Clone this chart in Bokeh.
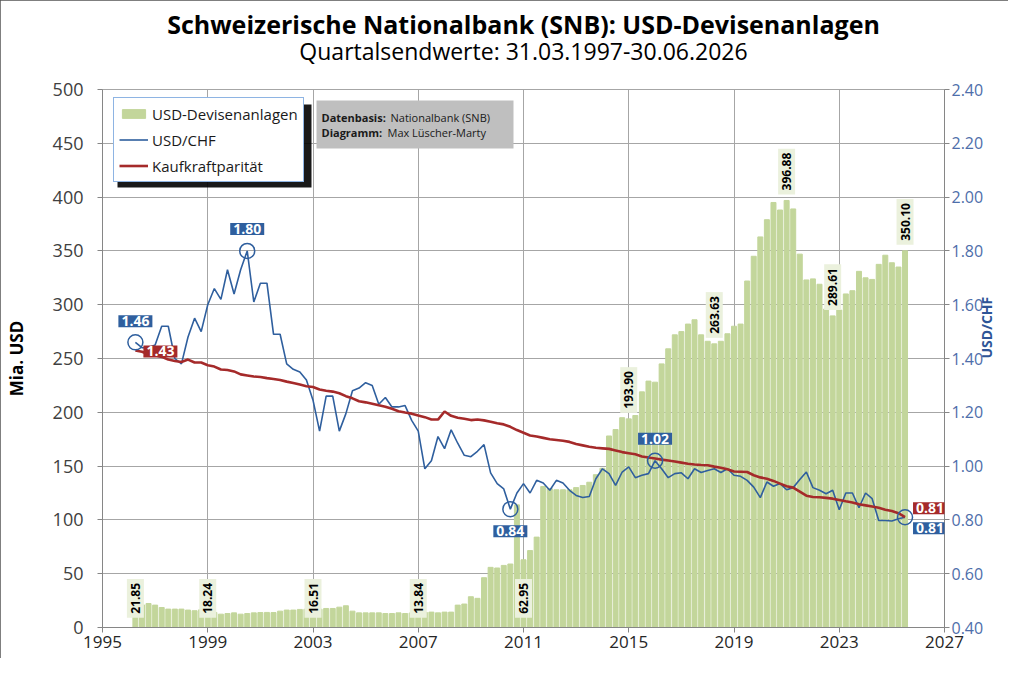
import math

from bokeh.plotting import figure
from bokeh.models import (ColumnDataSource, Range1d, LinearAxis, FixedTicker, Legend,
                          LegendItem, Label, BoxAnnotation, Title, NumeralTickFormatter)
from bokeh.embed import file_html
from bokeh.resources import INLINE

FONT = "Open Sans"

# Quartalsendwerte (Achse im Original um ein Jahr versetzt: erstes Quartal bei 1996.25)
first_quarter = 1996.25

usd_bn = [21.85, 21.0, 22.3, 20.8, 18.6, 17.1, 17.1, 17.1, 16.2, 15.6,
          16.5, 18.24, 14.0, 12.4, 13.0, 13.6, 12.4, 13.0, 13.6, 13.9,
          14.0, 13.9, 15.2, 16.2, 16.2, 16.8, 17.0, 16.51, 17.0, 17.7,
          17.7, 18.9, 20.2, 15.2, 13.6, 13.6, 13.6, 13.6, 13.0, 13.0,
          13.6, 13.0, 13.5, 13.84, 14.0, 14.3, 13.6, 14.3, 14.3, 20.8,
          21.8, 28.6, 27.1, 46.3, 55.9, 55.3, 57.7, 59.0, 114.0, 62.95,
          71.5, 84.0, 131, 129, 128, 128, 128, 130, 132, 135,
          142, 148, 178, 184, 195, 193.90, 197, 219, 229, 228,
          245, 259, 272, 275, 282, 286, 272, 266, 263.63, 266,
          273, 280, 282, 322, 345, 363, 379, 395, 388, 396.88,
          389, 347, 323, 324, 319, 296, 289.61, 295, 310, 313,
          331, 325, 323.5, 337.5, 346, 339, 335, 350.10]

usd_chf = [1.46, 1.44, 1.44, 1.45, 1.52, 1.52, 1.40, 1.38, 1.48, 1.55,
           1.50, 1.60, 1.66, 1.62, 1.73, 1.64, 1.73, 1.80, 1.61, 1.68,
           1.68, 1.49, 1.49, 1.38, 1.36, 1.35, 1.32, 1.245, 1.13, 1.26,
           1.26, 1.13, 1.195, 1.28, 1.29, 1.31, 1.30, 1.23, 1.255, 1.22,
           1.22, 1.225, 1.17, 1.13, 0.99, 1.02, 1.11, 1.065, 1.135, 1.085,
           1.04, 1.035, 1.055, 1.08, 0.975, 0.935, 0.915, 0.84, 0.90, 0.935,
           0.90, 0.947, 0.937, 0.910, 0.947, 0.937, 0.910, 0.891, 0.883, 0.887,
           0.953, 0.990, 0.972, 0.928, 0.978, 0.997, 0.957, 0.966, 0.972, 1.02,
           0.99, 0.957, 0.972, 0.975, 0.953, 0.99, 0.976, 0.984, 0.99, 0.976,
           0.99, 0.966, 0.962, 0.947, 0.922, 0.883, 0.941, 0.925, 0.935, 0.912,
           0.92, 0.95, 0.978, 0.92, 0.91, 0.897, 0.91, 0.838, 0.90, 0.90,
           0.845, 0.90, 0.879, 0.798, 0.798, 0.796, 0.804, 0.81]

ppp = [1.43, 1.425, 1.416, 1.412, 1.406, 1.396, 1.391, 1.387, 1.396, 1.385,
       1.385, 1.375, 1.37, 1.359, 1.357, 1.352, 1.341, 1.337, 1.333, 1.331,
       1.327, 1.324, 1.32, 1.314, 1.309, 1.303, 1.297, 1.294, 1.285, 1.280,
       1.277, 1.271, 1.260, 1.252, 1.241, 1.237, 1.232, 1.226, 1.221, 1.213,
       1.204, 1.199, 1.195, 1.188, 1.182, 1.173, 1.173, 1.203, 1.187, 1.18,
       1.176, 1.171, 1.173, 1.170, 1.165, 1.159, 1.155, 1.146, 1.134, 1.124,
       1.114, 1.11, 1.105, 1.10, 1.097, 1.094, 1.09, 1.082, 1.077, 1.072,
       1.068, 1.066, 1.064, 1.058, 1.052, 1.048, 1.044, 1.036, 1.032, 1.028,
       1.024, 1.021, 1.017, 1.013, 1.009, 1.006, 1.004, 1.003, 0.998, 0.994,
       0.988, 0.98, 0.979, 0.978, 0.966, 0.958, 0.953, 0.945, 0.935, 0.925,
       0.92, 0.905, 0.89, 0.885, 0.884, 0.882, 0.879, 0.874, 0.869, 0.865,
       0.858, 0.854, 0.85, 0.845, 0.838, 0.833, 0.825, 0.81]

bar_label_idx = [0, 11, 27, 43, 59, 75, 88, 99, 106, 117]
low_label_idx = [0, 11, 27, 43, 59]
fx_mark_idx = [0, 17, 57, 79, 117]

x_ticks = list(range(1995, 2028, 4))
left_ticks = list(range(0, 501, 50))
right_ticks = [0.4, 0.6, 0.8, 1.0, 1.2, 1.4, 1.6, 1.8, 2.0, 2.2, 2.4]

xs = [first_quarter + 0.25 * i for i in range(len(usd_bn))]

BAR = "#c3d69b"
BLUE = "#2f5f9e"
RED = "#a52a2a"
GRID = "#a6a6a6"

p = figure(width=1008, height=658, x_range=Range1d(1995, 2027), y_range=Range1d(0, 500),
           output_backend="svg", toolbar_location=None,
           min_border_left=102, min_border_right=64, min_border_top=89, min_border_bottom=31)
p.extra_y_ranges = {"fx": Range1d(0.4, 2.4)}
p.background_fill_color = "white"
p.border_fill_color = "white"
p.outline_line_color = GRID
p.styles = {"outline": "2px solid #555555", "outline-offset": "-2px"}

# pixel helpers for decorations (frame 842 x 538 px)
def px_x(px):
    return 1995 + (px - 102) * 32 / 842

def px_y(py):
    return (627 - py) * 500 / 538

src = ColumnDataSource(data=dict(x=xs, usd=usd_bn, chf=usd_chf, ppp=ppp))

bars = p.vbar(x="x", top="usd", width=0.19, source=src, color=BAR)
l_chf = p.line(x="x", y="chf", source=src, y_range_name="fx", color=BLUE, line_width=1.6)
l_ppp = p.line(x="x", y="ppp", source=src, y_range_name="fx", color=RED, line_width=2.6)

p.scatter(x=[xs[i] for i in fx_mark_idx], y=[usd_chf[i] for i in fx_mark_idx],
          y_range_name="fx", marker="circle", size=15, fill_color=None,
          line_color=BLUE, line_width=1.5)

# axes
p.xaxis.ticker = FixedTicker(ticks=x_ticks)
p.xgrid.ticker = FixedTicker(ticks=x_ticks)
p.yaxis.ticker = FixedTicker(ticks=left_ticks)
p.ygrid.ticker = FixedTicker(ticks=left_ticks)
p.grid.grid_line_color = GRID
p.yaxis.axis_label = "Mia. USD"

right = LinearAxis(y_range_name="fx", ticker=FixedTicker(ticks=right_ticks),
                   formatter=NumeralTickFormatter(format="0.00"), axis_label="USD/CHF")
p.add_layout(right, "right")

for ax in [p.xaxis[0], p.yaxis[0], right]:
    ax.axis_line_color = "#868686"
    ax.major_tick_line_color = "#868686"
    ax.major_tick_out = 5
    ax.major_tick_in = 0
    ax.minor_tick_line_color = None
    ax.major_label_text_font = FONT
    ax.axis_label_text_font = FONT
    ax.axis_label_text_font_style = "bold"

p.xaxis.major_label_text_font_size = "17px"
p.xaxis.major_label_text_color = "#262626"
p.xaxis.major_label_standoff = 3
p.yaxis.major_label_text_font_size = "18px"
p.yaxis.major_label_text_color = "#404040"
p.yaxis.major_label_standoff = 14
p.yaxis.axis_label_text_font_size = "17px"
p.yaxis.axis_label_text_color = "black"
p.yaxis.axis_label_standoff = 22
right.major_label_text_font_size = "16px"
right.major_label_text_color = "#4e6eaa"
right.major_label_standoff = 2
right.axis_label_text_font_size = "14px"
right.axis_label_text_color = "#2e5597"
right.axis_label_standoff = 0
if "axis_label_orientation" in right.properties():
    right.axis_label_orientation = math.pi / 2

# titles (subtitle first = closest to the frame)
p.add_layout(Title(text="Quartalsendwerte: 31.03.1997-30.06.2026", align="center",
                   text_font=FONT, text_font_size="23px", text_font_style="normal",
                   text_color="black", standoff=46), "above")
p.add_layout(Title(text="Schweizerische Nationalbank (SNB): USD-Devisenanlagen", align="center",
                   text_font=FONT, text_font_size="25px", text_font_style="bold",
                   text_color="black", standoff=-62), "above")

# value labels on bars
for i in bar_label_idx:
    low = i in low_label_idx
    p.add_layout(Label(x=xs[i], y=9 if low else usd_bn[i], y_offset=0 if low else 6,
                       text=f"{usd_bn[i]:.2f}", angle=math.pi / 2,
                       text_align="left", text_baseline="middle",
                       text_font=FONT, text_font_size="12px", text_font_style="bold",
                       text_color="black", background_fill_color="#ebf1dd", padding=4))

# labelled points on the fx lines
def box_label(x, y, text, color, dx, dy):
    p.add_layout(Label(x=x, y=y, y_range_name="fx", text=text, x_offset=dx, y_offset=dy,
                       text_align="center", text_baseline="middle", text_color="white",
                       text_font=FONT, text_font_size="14px", text_font_style="bold",
                       background_fill_color=color, padding=dict(x=3, y=1)))

box_label(xs[0], usd_chf[0], f"{usd_chf[0]:.2f}", BLUE, 0, 21)
box_label(xs[17], usd_chf[17], f"{usd_chf[17]:.2f}", BLUE, 0, 22)
box_label(xs[57], usd_chf[57], f"{usd_chf[57]:.2f}", BLUE, 0, -22)
box_label(xs[79], usd_chf[79], f"{usd_chf[79]:.2f}", BLUE, 0, 22)
box_label(xs[117], usd_chf[117], f"{usd_chf[117]:.2f}", BLUE, 25, -11)
box_label(xs[117], ppp[117], f"{ppp[117]:.2f}", RED, 25, 9)
box_label(xs[0], ppp[0], f"{ppp[0]:.2f}", RED, 25, -1)

# legend with shadow
p.add_layout(BoxAnnotation(left=px_x(117), right=px_x(311), top=px_y(104), bottom=px_y(187),
                           fill_color="black", fill_alpha=0.9, line_color=None))
legend = Legend(items=[LegendItem(label="USD-Devisenanlagen", renderers=[bars]),
                       LegendItem(label="USD/CHF", renderers=[l_chf]),
                       LegendItem(label="Kaufkraftparität", renderers=[l_ppp])],
                location=(11, 445), border_line_color="#8eb4e3", border_line_width=1,
                border_line_alpha=1, background_fill_color="white", background_fill_alpha=1,
                label_text_font=FONT, label_text_font_size="15px", label_text_color="#1a1a1a",
                glyph_width=29, glyph_height=11, label_height=21, spacing=5, padding=5,
                margin=0, label_standoff=4)
p.add_layout(legend, "center")

# source box
p.add_layout(BoxAnnotation(left=px_x(316), right=px_x(513), top=px_y(100), bottom=px_y(148),
                           fill_color="#bfbfbf", fill_alpha=1, line_color=None))
for py, bold, normal, nx in [(117, "Datenbasis:", "Nationalbank (SNB)", 390),
                              (132, "Diagramm:", "Max Lüscher-Marty", 387)]:
    p.add_layout(Label(x=px_x(321), y=px_y(py), text=bold, text_align="left",
                       text_baseline="middle", text_font=FONT, text_font_size="11px",
                       text_font_style="bold", text_color="#1a1a1a"))
    p.add_layout(Label(x=px_x(nx), y=px_y(py), text=normal, text_align="left",
                       text_baseline="middle", text_font=FONT, text_font_size="11px",
                       text_color="#1a1a1a"))

open("out.html", "w").write(file_html(p, INLINE))
